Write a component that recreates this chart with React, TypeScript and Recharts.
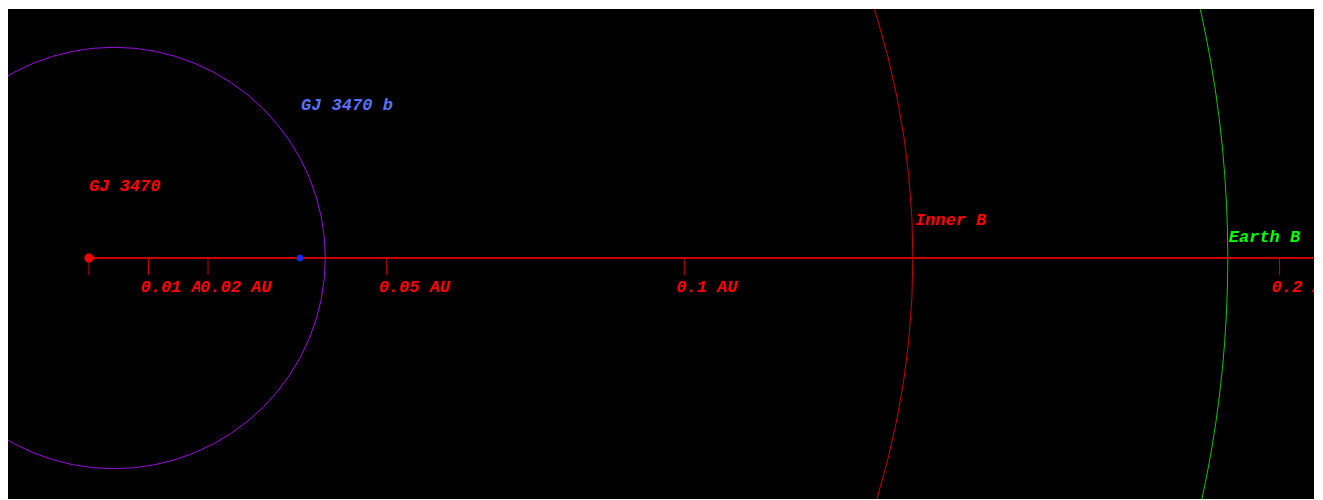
import React from 'react';
import {
  ComposedChart,
  XAxis,
  YAxis,
  Scatter,
  ReferenceArea,
  ReferenceLine,
  ReferenceDot,
} from 'recharts';

// ---- data (AU) ----
const AU_TICKS = [0, 0.01, 0.02, 0.05, 0.1, 0.2];
const AU_TICK_LABELS = ['', '0.01 AU', '0.02 AU', '0.05 AU', '0.1 AU', '0.2 AU'];

const STARS = [{ name: 'GJ 3470', x: 0, y: 0 }];
const PLANETS = [{ name: 'GJ 3470 b', x: 0.03545, y: 0 }];
// planet orbit: centre offset from star, semi-major, semi-minor axis
const PLANET_ORBITS = [{ name: 'GJ 3470 b', center: 0.0042, a: 0.0355, b: 0.0354 }];
const ZONES = [
  { name: 'Inner B', radius: 0.1384 },
  { name: 'Earth B', radius: 0.1913 },
];

const X_DOMAIN: [number, number] = [-0.01394, 0.20578];
const Y_DOMAIN: [number, number] = [0, 0.04183];

// ---- styles ----
const FONT = {
  fontFamily: '"Liberation Mono", "Courier New", monospace',
  fontWeight: 'bold' as const,
  fontStyle: 'italic' as const,
  fontSize: 17,
};
const CHAR_W = 10.2;
const AXIS_COLOR = '#cc0000';
const LABEL_RED = '#ff0000';
const LABEL_STYLE: Record<string, { color: string; dx: number; dy: number }> = {
  'GJ 3470': { color: '#ff0000', dx: 0, dy: -67 },
  'GJ 3470 b': { color: '#5b73ff', dx: 1, dy: -148 },
  'Inner B': { color: '#ff0000', dx: 2, dy: -33 },
  'Earth B': { color: '#00ff00', dx: 1, dy: -16 },
};
const ZONE_COLORS: Record<string, string> = {
  'Inner B': '#cc0000',
  'Earth B': '#00cc00',
};

const AxisTick = (props: any) => {
  const { x, y, payload } = props;
  const i = AU_TICKS.indexOf(payload.value);
  const label = i >= 0 ? AU_TICK_LABELS[i] : '';
  if (!label) return <g />;
  return (
    <g>
      <rect x={x - 8} y={y + 4} width={label.length * CHAR_W + 2} height={17} fill="#000" />
      <text x={x - 8} y={y + 17} fill={LABEL_RED} {...FONT}>
        {label}
      </text>
    </g>
  );
};

const StarShape = (props: any) => {
  const { cx, cy, payload } = props;
  const s = LABEL_STYLE[payload.name];
  return (
    <g>
      <circle cx={cx} cy={cy} r={4.5} fill="#ff0000" />
      <text x={cx + s.dx} y={cy + s.dy} fill={s.color} {...FONT}>
        {payload.name}
      </text>
    </g>
  );
};

const PlanetShape = (props: any) => {
  const { cx, cy, payload } = props;
  const s = LABEL_STYLE[payload.name];
  return (
    <g>
      <circle cx={cx} cy={cy} r={3.3} fill="#1030ff" />
      <text x={cx + s.dx} y={cy + s.dy} fill={s.color} {...FONT}>
        {payload.name}
      </text>
    </g>
  );
};

const ellipseShape = (color: string) => (p: any) => (
  <ellipse
    cx={p.x + p.width / 2}
    cy={p.y + p.height / 2}
    rx={Math.abs(p.width / 2)}
    ry={Math.abs(p.height / 2)}
    fill="none"
    stroke={color}
    strokeWidth={1}
  />
);

const zoneLabel = (name: string) => (p: any) => {
  const s = LABEL_STYLE[name];
  return (
    <text x={p.cx + s.dx} y={p.cy + s.dy} fill={s.color} {...FONT}>
      {name}
    </text>
  );
};

export default function App() {
  return (
    <div
      style={{
        position: 'relative',
        left: -2,
        top: 1,
        width: 1308,
        height: 491,
        background: '#000',
        overflow: 'hidden',
      }}
    >
      <ComposedChart
        width={1308}
        height={491}
        margin={{ top: 0, right: 0, bottom: 0, left: 0 }}
      >
        <XAxis
          type="number"
          dataKey="x"
          domain={X_DOMAIN}
          ticks={AU_TICKS}
          interval={0}
          height={242}
          axisLine={false}
          tickLine={{ stroke: AXIS_COLOR }}
          tickSize={17}
          tickMargin={0}
          tick={<AxisTick />}
        />
        <YAxis type="number" dataKey="y" domain={Y_DOMAIN} hide />
        {ZONES.map((z) => (
          <ReferenceArea
            key={z.name}
            x1={-z.radius}
            x2={z.radius}
            y1={-z.radius}
            y2={z.radius}
            ifOverflow="visible"
            shape={ellipseShape(ZONE_COLORS[z.name])}
          />
        ))}
        {PLANET_ORBITS.map((o) => (
          <ReferenceArea
            key={o.name}
            x1={o.center - o.a}
            x2={o.center + o.a}
            y1={-o.b}
            y2={o.b}
            ifOverflow="visible"
            shape={ellipseShape('#9a10e0')}
          />
        ))}
        <ReferenceLine
          segment={[
            { x: 0, y: 0 },
            { x: X_DOMAIN[1], y: 0 },
          ]}
          stroke={AXIS_COLOR}
          strokeWidth={2}
          ifOverflow="visible"
        />
        {ZONES.map((z) => (
          <ReferenceDot
            key={'lbl-' + z.name}
            x={z.radius}
            y={0}
            r={0}
            ifOverflow="visible"
            shape={zoneLabel(z.name)}
          />
        ))}
        <Scatter data={PLANETS} isAnimationActive={false} shape={<PlanetShape />} />
        <Scatter data={STARS} isAnimationActive={false} shape={<StarShape />} />
      </ComposedChart>
    </div>
  );
}
